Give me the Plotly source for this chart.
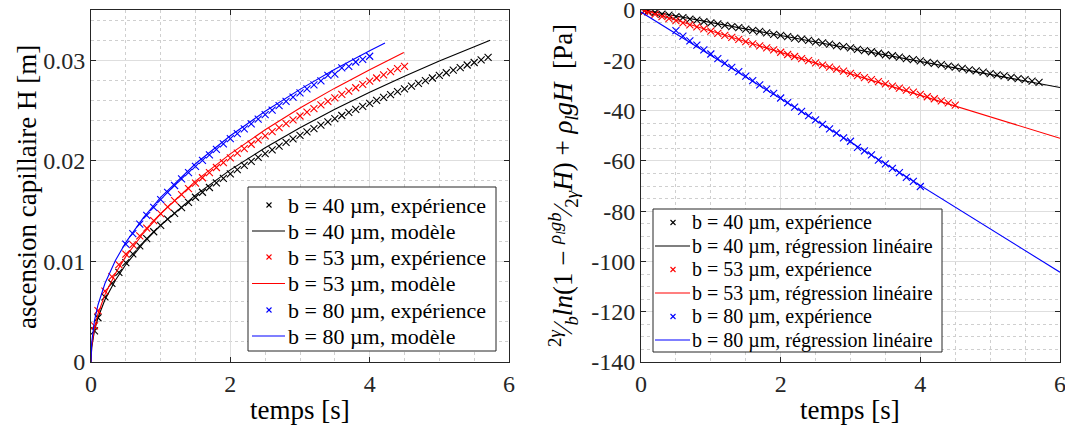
import plotly.graph_objects as go

# ---------------- data ----------------
t_black = [0.05, 0.1, 0.2, 0.3, 0.4, 0.5, 0.6, 0.7, 0.8, 0.9, 1.0, 1.1, 1.2, 1.3, 1.4, 1.5,
           1.6, 1.7, 1.8, 1.9, 2.0, 2.1, 2.2, 2.3, 2.4, 2.5, 2.6, 2.7, 2.8, 2.9, 3.0, 3.1,
           3.2, 3.3, 3.4, 3.5, 3.6, 3.7, 3.8, 3.9, 4.0, 4.1, 4.2, 4.3, 4.4, 4.5, 4.6, 4.7,
           4.8, 4.9, 5.0, 5.1, 5.2, 5.3, 5.4, 5.5, 5.6, 5.7]
H_black = [0.0031, 0.0044, 0.00648, 0.00781, 0.00892, 0.00988, 0.01075, 0.01154, 0.01227,
           0.01295, 0.01359, 0.01420, 0.01478, 0.01534, 0.01587, 0.01638, 0.01688, 0.01735,
           0.01782, 0.01826, 0.01870, 0.01912, 0.01954, 0.01994, 0.02034, 0.02072, 0.02110,
           0.02147, 0.02183, 0.02219, 0.02253, 0.02288, 0.02321, 0.02355, 0.02387, 0.02419,
           0.02451, 0.02482, 0.02512, 0.02542, 0.02572, 0.02602, 0.02631, 0.02659, 0.02688,
           0.02715, 0.02743, 0.02770, 0.02797, 0.02824, 0.02850, 0.02876, 0.02902, 0.02928,
           0.02953, 0.02978, 0.03003, 0.03030]
P_black = [-0.3, -0.5, -1.0, -1.6, -2.0, -2.6, -3.0, -3.6, -4.0, -4.6, -5.1, -5.5, -6.1, -6.6,
           -7.0, -7.6, -8.1, -8.5, -9.1, -9.7, -10.1, -10.6, -11.2, -11.6, -12.1, -12.7, -13.1,
           -13.6, -14.2, -14.6, -15.1, -15.7, -16.2, -16.6, -17.2, -17.8, -18.2, -18.7, -19.3,
           -19.7, -20.2, -20.8, -21.2, -21.7, -22.3, -22.7, -23.2, -23.8, -24.2, -24.7, -25.3,
           -25.8, -26.2, -26.8, -27.3, -27.7, -28.3, -28.8]

t_red = [0.05, 0.1, 0.2, 0.3, 0.4, 0.5, 0.6, 0.7, 0.8, 0.9, 1.0, 1.1, 1.2, 1.3, 1.4, 1.5,
         1.6, 1.7, 1.8, 1.9, 2.0, 2.1, 2.2, 2.3, 2.4, 2.5, 2.6, 2.7, 2.8, 2.9, 3.0, 3.1,
         3.2, 3.3, 3.4, 3.5, 3.6, 3.7, 3.8, 3.9, 4.0, 4.1, 4.2, 4.3, 4.4, 4.5]
H_red = [0.0036, 0.0051, 0.00704, 0.00848, 0.00968, 0.01073, 0.01167, 0.01253, 0.01332,
         0.01406, 0.01476, 0.01542, 0.01605, 0.01665, 0.01723, 0.01778, 0.01832, 0.01884,
         0.01934, 0.01983, 0.02030, 0.02076, 0.02121, 0.02165, 0.02208, 0.02249, 0.02290,
         0.02330, 0.02370, 0.02408, 0.02446, 0.02484, 0.02520, 0.02556, 0.02591, 0.02626,
         0.02660, 0.02694, 0.02727, 0.02760, 0.02792, 0.02824, 0.02856, 0.02887, 0.02918,
         0.02940]
P_red = [-0.4, -0.8, -1.7, -2.6, -3.4, -4.2, -5.1, -5.9, -6.7, -7.5, -8.4, -9.3, -10.1, -10.9,
         -11.7, -12.6, -13.5, -14.3, -15.1, -15.9, -16.8, -17.7, -18.5, -19.3, -20.1, -21.0,
         -21.9, -22.7, -23.5, -24.3, -25.2, -26.1, -26.9, -27.7, -28.5, -29.4, -30.3, -31.1,
         -31.9, -32.7, -33.6, -34.5, -35.3, -36.1, -36.9, -37.8]

t_blue = [0.5, 0.6, 0.7, 0.8, 0.9, 1.0, 1.1, 1.2, 1.3, 1.4, 1.5, 1.6, 1.7, 1.8, 1.9, 2.0,
          2.1, 2.2, 2.3, 2.4, 2.5, 2.6, 2.7, 2.8, 2.9, 3.0, 3.1, 3.2, 3.3, 3.4, 3.5, 3.6,
          3.7, 3.8, 3.9, 4.0]
H_blue = [0.01173, 0.01276, 0.01370, 0.01457, 0.01538, 0.01614, 0.01686, 0.01755, 0.01821,
          0.01884, 0.01945, 0.02004, 0.02060, 0.02115, 0.02168, 0.02220, 0.02270, 0.02319,
          0.02367, 0.02414, 0.02460, 0.02505, 0.02549, 0.02592, 0.02634, 0.02675, 0.02716,
          0.02756, 0.02795, 0.02850, 0.02862, 0.02925, 0.02940, 0.02983, 0.03010, 0.03040]
P_blue = [-8.2, -10.4, -12.3, -14.0, -15.9, -17.5, -19.3, -21.1, -22.8, -24.5, -26.3, -28.1,
          -29.8, -31.5, -33.2, -35.0, -36.8, -38.6, -40.3, -42.0, -43.7, -45.5, -47.3, -49.0,
          -50.9, -52.2, -54.6, -56.0, -57.6, -59.7, -61.2, -63.0, -64.7, -66.6, -68.2, -70.2]

t_model_black = [0, 0.01, 0.05, 0.1, 0.2, 0.35, 0.5, 0.75, 1, 1.5, 2, 2.5, 3, 3.5, 4, 4.5, 5, 5.5, 5.73]
H_model_black = [0, 0.00142, 0.00313, 0.0044, 0.00618, 0.00813, 0.00969, 0.01181, 0.0136, 0.01659,
                 0.0191, 0.02131, 0.0233, 0.02513, 0.02682, 0.02842, 0.02992, 0.03135, 0.0320]
t_model_red = [0, 0.01, 0.05, 0.1, 0.2, 0.35, 0.5, 0.75, 1, 1.5, 2, 2.5, 3, 3.5, 4, 4.49]
H_model_red = [0, 0.00154, 0.0034, 0.00477, 0.0067, 0.00881, 0.0105, 0.0128, 0.01474, 0.01798,
               0.0207, 0.02309, 0.02525, 0.02723, 0.02907, 0.03077]
t_model_blue = [0, 0.01, 0.05, 0.1, 0.2, 0.35, 0.5, 0.75, 1, 1.5, 2, 2.5, 3, 3.5, 4, 4.22]
H_model_blue = [0, 0.00197, 0.00412, 0.00567, 0.0078, 0.01009, 0.01189, 0.01433, 0.01636, 0.01971,
                0.0225, 0.02493, 0.02711, 0.02911, 0.03095, 0.03172]

t_fit = [0, 6]
P_fit_black = [0.2, -30.8]
P_fit_red = [0.2, -51.0]
P_fit_blue = [-0.8, -104.3]

x_ticks = [0, 2, 4, 6]
y1_ticks = [0, 0.01, 0.02, 0.03]
y1_labels = ["0", "0.01", "0.02", "0.03"]
y2_ticks = [-140, -120, -100, -80, -60, -40, -20, 0]
y2_labels = ["-140", "-120", "-100", "-80", "-60", "-40", "-20", "0"]

labels_left = ["b = 40 µm, expérience", "b = 40 µm, modèle",
               "b = 53 µm, expérience", "b = 53 µm, modèle",
               "b = 80 µm, expérience", "b = 80 µm, modèle"]
labels_right = ["b = 40 µm, expérience", "b = 40 µm, régression linéaire",
                "b = 53 µm, expérience", "b = 53 µm, régression linéaire",
                "b = 80 µm, expérience", "b = 80 µm, régression linéaire"]
colors = ["#000000", "#ff0000", "#0000ff"]

# ---------------- figure ----------------
FONT = "Liberation Serif"
W, Hpx = 1065, 434
fig = go.Figure()


def mk(color):
    return dict(symbol="x-thin", size=7, color=color, line=dict(color=color, width=1.1))


left_exp = [(t_black, H_black), (t_red, H_red), (t_blue, H_blue)]
left_mod = [(t_model_black, H_model_black), (t_model_red, H_model_red), (t_model_blue, H_model_blue)]
right_exp = [(t_black, P_black), (t_red, P_red), (t_blue, P_blue)]
right_fit = [P_fit_black, P_fit_red, P_fit_blue]

for i, c in enumerate(colors):
    fig.add_trace(go.Scatter(x=left_exp[i][0], y=left_exp[i][1], mode="markers", marker=mk(c),
                             name=labels_left[2 * i], xaxis="x", yaxis="y"))
    fig.add_trace(go.Scatter(x=left_mod[i][0], y=left_mod[i][1], mode="lines",
                             line=dict(color=c, width=1.1), name=labels_left[2 * i + 1],
                             xaxis="x", yaxis="y"))
for i, c in enumerate(colors):
    fig.add_trace(go.Scatter(x=right_exp[i][0], y=right_exp[i][1], mode="markers", marker=mk(c),
                             name=labels_right[2 * i], xaxis="x2", yaxis="y2"))
    fig.add_trace(go.Scatter(x=t_fit, y=right_fit[i], mode="lines",
                             line=dict(color=c, width=1.1), name=labels_right[2 * i + 1],
                             xaxis="x2", yaxis="y2"))

axcol = "#262626"
grid_major = "#dedede"
grid_minor = "#cfcfcf"
tickfont = dict(family=FONT, size=24, color=axcol)


def common_axis():
    return dict(showgrid=True, gridcolor=grid_major, gridwidth=1,
                showline=True, linecolor=axcol, linewidth=1, mirror="allticks",
                ticks="inside", ticklen=5, tickcolor=axcol, tickfont=tickfont,
                ticklabeloverflow="allow",
                zeroline=False, automargin=False, fixedrange=True)


def xax(domain, anchor):
    d = common_axis()
    d.update(domain=domain, anchor=anchor, range=[0, 6], tickvals=x_ticks,
             ticktext=[str(v) for v in x_ticks],
             minor=dict(dtick=0.5, tick0=0, showgrid=True, gridcolor=grid_minor,
                        griddash="dot", gridwidth=1, ticks=""))
    return d


xd1 = [91 / W, 509 / W]
xd2 = [641 / W, 1060 / W]
yd = [1 - 362 / Hpx, 1 - 10 / Hpx]

y1 = common_axis()
y1.update(domain=yd, anchor="x", range=[0, 0.035], tickvals=y1_ticks, ticktext=y1_labels,
          minor=dict(dtick=0.002, tick0=0, showgrid=True, gridcolor=grid_minor,
                     griddash="dot", ticks=""))
y2 = common_axis()
y2.update(domain=yd, anchor="x2", range=[-140, 0], tickvals=y2_ticks, ticktext=y2_labels,
          minor=dict(dtick=5, tick0=0, showgrid=True, gridcolor=grid_minor,
                     griddash="dot", ticks=""))

fig.update_layout(
    width=W, height=Hpx, margin=dict(l=0, r=0, t=0, b=0, autoexpand=False),
    paper_bgcolor="white", plot_bgcolor="white",
    font=dict(family=FONT, color="black"),
    xaxis=xax(xd1, "y"), xaxis2=xax(xd2, "y2"),
    yaxis=y1, yaxis2=y2,
    showlegend=False,
)


def px(x):
    return x / W


def py(y):
    return 1 - y / Hpx


# ---------- legends drawn as boxes + samples + text ----------
def draw_legend(box, rows, x_line, x_mark, x_text, labels, fsize):
    x0, y0, x1, y1_ = box
    fig.add_shape(type="rect", xref="paper", yref="paper", x0=px(x0), x1=px(x1),
                  y0=py(y1_), y1=py(y0), fillcolor="white", line=dict(color=axcol, width=1),
                  layer="above")
    for i, yc in enumerate(rows):
        c = colors[i // 2]
        if i % 2 == 0:
            h = 2.5
            for s in (1, -1):
                fig.add_shape(type="line", xref="paper", yref="paper",
                              x0=px(x_mark - h), x1=px(x_mark + h),
                              y0=py(yc - s * h), y1=py(yc + s * h),
                              line=dict(color=c, width=1.1), layer="above")
        else:
            fig.add_shape(type="line", xref="paper", yref="paper",
                          x0=px(x_line[0]), x1=px(x_line[1]), y0=py(yc), y1=py(yc),
                          line=dict(color=c, width=1.1), layer="above")
        fig.add_annotation(text=labels[i], x=px(x_text), y=py(yc), xref="paper", yref="paper",
                           xanchor="left", yanchor="middle", showarrow=False,
                           font=dict(family=FONT, size=fsize, color="black"))


draw_legend((248, 187, 496, 351), [205, 231, 257, 283.5, 310, 336],
            (252, 285), 269, 286, labels_left, 22)
draw_legend((653, 209, 942, 352), [222.5, 246, 269.5, 293, 316.5, 340],
            (655, 690), 673, 690, labels_right, 20)

# ---------- axis titles ----------
title_font = dict(family=FONT, size=27, color="black")
fig.add_annotation(text="temps [s]", x=px(300), y=py(410), xref="paper", yref="paper",
                   xanchor="center", yanchor="middle", showarrow=False, font=title_font)
fig.add_annotation(text="temps [s]", x=px(850), y=py(410), xref="paper", yref="paper",
                   xanchor="center", yanchor="middle", showarrow=False, font=title_font)
fig.add_annotation(text="ascension capillaire H [m]", x=px(27), y=py(187),
                   xref="paper", yref="paper", xanchor="center", yanchor="middle",
                   showarrow=False, textangle=-90, font=title_font)
fig.add_annotation(
    text="<sup>2<i>γ</i></sup>⁄<sub><i>b</i></sub><i>ln</i>(1 − <sup><i>ρ<sub>l</sub>gb</i></sup>⁄<sub>2<i>γ</i></sub><i>H</i>) + <i>ρ<sub>l</sub>gH</i>  [Pa]",
    x=px(563), y=py(186), xref="paper", yref="paper", xanchor="center", yanchor="middle",
    showarrow=False, textangle=-90, font=title_font)

fig.write_html("out.html", config={"displayModeBar": False},
               post_script="document.body.style.margin='0';document.body.style.padding='0';")
